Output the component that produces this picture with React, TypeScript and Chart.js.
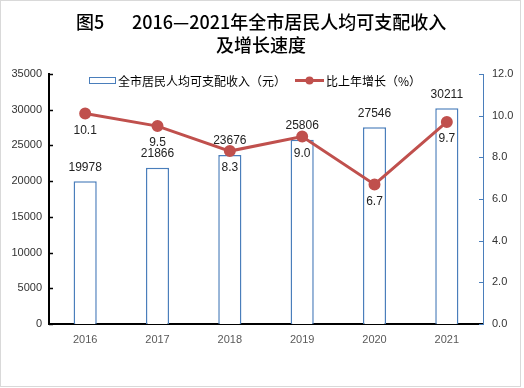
import React, { useEffect, useRef } from "react";
import { Chart, registerables } from "chart.js";

Chart.register(...registerables);

const years = ["2016", "2017", "2018", "2019", "2020", "2021"];
const income = [19978, 21866, 23676, 25806, 27546, 30211];
const growth = [10.1, 9.5, 8.3, 9.0, 6.7, 9.7];
const leftTicksMax = 35000;
const rightTicksMax = 12;

const titleLead = "图5";
const titleMain = "2016—2021年全市居民人均可支配收入";
const titleLine2 = "及增长速度";
const barLegend = "全市居民人均可支配收入（元）";
const lineLegend = "比上年增长（%）";

const BLUE = "#4a7ebb";
const RED = "#c0504d";
const CJK = '"Noto Sans CJK SC", "Noto Sans", sans-serif';
const NUM = '"Liberation Sans", Arial, sans-serif';

const decorPlugin = {
  id: "decor",
  beforeDraw(chart: any) {
    const ctx = chart.ctx;
    ctx.save();
    ctx.fillStyle = "#ffffff";
    ctx.fillRect(0, 0, chart.width, chart.height);
    ctx.restore();
  },
  afterDraw(chart: any) {
    const ctx = chart.ctx;
    const area = chart.chartArea;
    const y = chart.scales.y;
    const y1 = chart.scales.y1;
    ctx.save();
    // outer frame
    ctx.strokeStyle = "#d9d9d9";
    ctx.lineWidth = 1;
    ctx.strokeRect(0.5, 0.5, 520, 386);

    // inward ticks
    ctx.strokeStyle = "#000";
    ctx.lineWidth = 1.5;
    y.ticks.forEach((t: any) => {
      const py = Math.round(y.getPixelForValue(t.value)) + 0.5;
      ctx.beginPath();
      ctx.moveTo(area.left, py);
      ctx.lineTo(area.left + 4, py);
      ctx.stroke();
    });
    ctx.strokeStyle = BLUE;
    ctx.lineWidth = 1;
    y1.ticks.forEach((t: any) => {
      const py = Math.round(y1.getPixelForValue(t.value)) + 0.5;
      ctx.beginPath();
      ctx.moveTo(area.right - 4, py);
      ctx.lineTo(area.right, py);
      ctx.stroke();
    });

    // title
    ctx.fillStyle = "#000";
    ctx.textBaseline = "middle";
    ctx.font = `500 18px ${CJK}`;
    ctx.textAlign = "left";
    ctx.fillText(titleLead, 76, 22);
    ctx.fillText(titleMain, 132, 22);
    ctx.textAlign = "center";
    ctx.fillText(titleLine2, 261, 45);

    // legend
    ctx.font = `12px ${CJK}`;
    ctx.textAlign = "left";
    ctx.fillStyle = "#fff";
    ctx.fillRect(89.5, 77.5, 26, 6);
    ctx.strokeStyle = BLUE;
    ctx.lineWidth = 1;
    ctx.strokeRect(89.5, 77.5, 26, 6);
    ctx.fillStyle = "#000";
    ctx.fillText(barLegend, 118, 81);
    ctx.strokeStyle = RED;
    ctx.lineWidth = 3;
    ctx.beginPath();
    ctx.moveTo(295, 80.5);
    ctx.lineTo(324, 80.5);
    ctx.stroke();
    ctx.fillStyle = RED;
    ctx.beginPath();
    ctx.arc(309.5, 80.5, 4, 0, Math.PI * 2);
    ctx.fill();
    ctx.fillStyle = "#000";
    ctx.fillText(lineLegend, 326, 81);
    ctx.restore();
  },
  afterDatasetsDraw(chart: any) {
    const ctx = chart.ctx;
    ctx.save();
    ctx.font = `12px ${NUM}`;
    ctx.fillStyle = "#222";
    ctx.textAlign = "center";
    ctx.textBaseline = "middle";
    const barMeta = chart.getDatasetMeta(0);
    barMeta.data.forEach((el: any, i: number) => {
      ctx.fillText(String(income[i]), el.x, el.y - 14);
    });
    const lineMeta = chart.getDatasetMeta(1);
    lineMeta.data.forEach((el: any, i: number) => {
      ctx.fillText(growth[i].toFixed(1), el.x, el.y + 17);
    });
    ctx.restore();
  },
};

export default function App() {
  const ref = useRef<HTMLCanvasElement | null>(null);
  useEffect(() => {
    document.body.style.margin = "0";
    if (!ref.current) return;
    const chart = new Chart(ref.current, {
      type: "bar",
      data: {
        labels: years,
        datasets: [
          {
            type: "bar",
            label: barLegend,
            data: income,
            yAxisID: "y",
            backgroundColor: "#ffffff",
            borderColor: BLUE,
            borderWidth: 1.5,
            categoryPercentage: 1,
            barPercentage: 0.32,
            order: 1,
          } as any,
          {
            type: "line",
            label: lineLegend,
            data: growth,
            yAxisID: "y1",
            borderColor: RED,
            backgroundColor: RED,
            borderWidth: 3,
            pointRadius: 4.5,
            pointBackgroundColor: RED,
            pointBorderColor: RED,
            tension: 0,
            order: 0,
          } as any,
        ],
      },
      options: {
        responsive: false,
        animation: false,
        layout: { padding: { top: 74, bottom: 40, left: 0, right: 0 } },
        plugins: {
          legend: { display: false },
          title: { display: false },
          tooltip: { enabled: false },
        },
        scales: {
          x: {
            grid: { display: false, drawTicks: false },
            border: { display: true, color: "#000", width: 2 },
            ticks: {
              color: "#595959",
              font: { family: NUM, size: 11 },
              padding: 9,
            },
            afterFit(s: any) {
              s.height = 24;
            },
          },
          y: {
            position: "left",
            min: 0,
            max: leftTicksMax,
            grid: { display: false, drawTicks: false },
            border: { display: true, color: "#000", width: 2 },
            ticks: {
              stepSize: 5000,
              color: "#333",
              font: { family: NUM, size: 11 },
              padding: 7,
              callback: (v: any) => String(v),
            },
            afterFit(s: any) {
              s.width = 49;
            },
          },
          y1: {
            position: "right",
            min: 0,
            max: rightTicksMax,
            grid: { display: false, drawTicks: false },
            border: { display: true, color: BLUE, width: 1 },
            ticks: {
              stepSize: 2,
              color: "#333",
              font: { family: NUM, size: 11 },
              padding: 9,
              callback: (v: any) => Number(v).toFixed(1),
            },
            afterFit(s: any) {
              s.width = 41;
            },
          },
        },
      } as any,
      plugins: [decorPlugin],
    });
    return () => chart.destroy();
  }, []);
  return (
    <canvas
      ref={ref}
      width={524}
      height={388}
      style={{ display: "block", width: 524, height: 388 }}
    />
  );
}
